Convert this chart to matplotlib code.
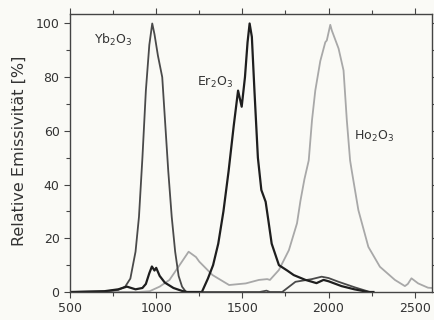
import numpy as np
import matplotlib
matplotlib.use('Agg')
import matplotlib.pyplot as plt
from matplotlib.ticker import MultipleLocator

# Data (wavelength in nm, relative emissivity in %)
yb_x = [500, 700, 780, 820, 850, 880, 900, 920, 940, 960, 977, 990, 1010,
        1035, 1050, 1070, 1090, 1110, 1130, 1150, 1173, 1300, 1600, 1640,
        1660, 1731, 1808, 1903, 1960, 2000, 2058, 2154, 2240, 2260]
yb_y = [0, 0.2, 0.8, 2, 5, 15, 28, 50, 75, 92, 100, 96, 88,
        80, 65, 45, 28, 15, 6, 2, 0, 0, 0, 0.5,
        0, 0, 3.8, 4.8, 5.7, 5.2, 3.8, 1.7, 0, 0]

er_x = [500, 700, 780, 830, 880, 920, 940, 960, 975, 990, 1000, 1020, 1050,
        1100, 1150, 1180, 1265, 1300, 1330, 1360, 1390, 1420, 1450, 1475,
        1496, 1515, 1530, 1542, 1555, 1570, 1590, 1610, 1635, 1650, 1670,
        1712, 1760, 1798, 1866, 1904, 1930, 1971, 2000, 2075, 2150, 2230, 2260]
er_y = [0, 0.3, 1, 2, 1, 1.5, 3, 7, 9.5, 8, 9, 6, 3.5,
        1.5, 0.4, 0, 0, 5, 10, 18, 30, 45, 62, 75,
        69, 80, 93, 100, 95, 75, 50, 38, 33.6, 27, 18,
        10, 8, 6.3, 4.5, 3.8, 3.3, 4.5, 4, 2.2, 1, 0, 0]

ho_x = [500, 900, 962, 1020, 1077, 1144, 1188, 1231, 1250, 1327, 1423,
        1520, 1596, 1644, 1660, 1712, 1770, 1817, 1837, 1860, 1885, 1904,
        1923, 1952, 1981, 1990, 2010, 2019, 2058, 2087, 2106, 2125, 2135,
        2173, 2231, 2298, 2385, 2443, 2460, 2481, 2520, 2577, 2600]
ho_y = [0, 0, 0.3, 2, 4.5, 10.8, 15, 13, 11.3, 6.3, 2.6,
        3.2, 4.5, 4.8, 4.5, 8.2, 15.6, 25.6, 34, 42, 49, 64,
        75, 86, 93, 93.7, 99.5, 97.4, 90.7, 82.5, 64, 49, 45,
        30.5, 16.8, 9.4, 4.5, 2.2, 3.0, 5.1, 3.2, 1.6, 1.5]

labels = ['Yb$_2$O$_3$', 'Er$_2$O$_3$', 'Ho$_2$O$_3$']
label_pos = [(640, 94), (1235, 78), (2150, 58)]

bg = '#fafaf6'
fig = plt.figure(figsize=(4.35, 3.2), dpi=100, facecolor=bg)
ax = fig.add_axes([0.161, 0.0875, 0.832, 0.8685], facecolor=bg)

ax.plot(ho_x, ho_y, color='#a8a8a8', lw=1.3)
ax.plot(yb_x, yb_y, color='#4a4a4a', lw=1.3)
ax.plot(er_x, er_y, color='#1e1e1e', lw=1.6)

for lab, (x, y) in zip(labels, label_pos):
    ax.text(x, y, lab, fontsize=9, color='#333333', va='center', ha='left')

ax.set_xlim(500, 2600)
ax.set_ylim(0, 103.5)
ax.xaxis.set_major_locator(MultipleLocator(500))
ax.xaxis.set_minor_locator(MultipleLocator(250))
ax.yaxis.set_major_locator(MultipleLocator(20))
ax.yaxis.set_minor_locator(MultipleLocator(10))
ax.tick_params(which='both', direction='out', top=True, right=True,
               labeltop=False, labelright=False, colors='#444444',
               labelcolor='#333333', labelsize=9, width=0.8)
ax.tick_params(which='major', length=4)
ax.tick_params(which='minor', length=3)
for sp in ax.spines.values():
    sp.set_color('#444444')
    sp.set_linewidth(1.0)

fig.text(0.045, 0.53, 'Relative Emissivität [%]', rotation=90,
         fontsize=11.5, color='#333333', ha='center', va='center')

fig.savefig('out.png', dpi=100, facecolor=bg)
